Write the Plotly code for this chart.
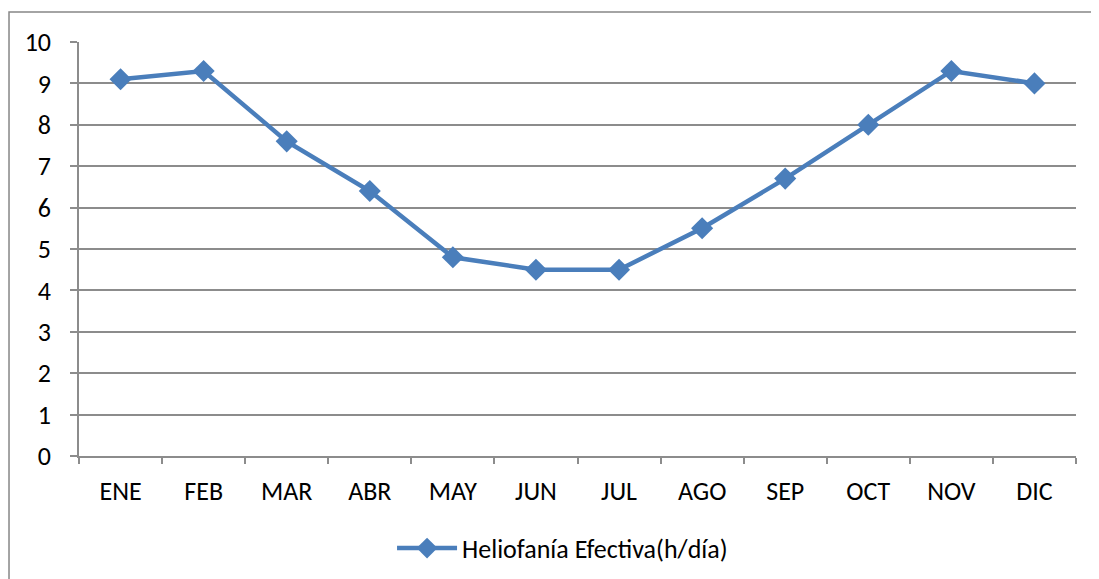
import plotly.graph_objects as go

months = ["ENE", "FEB", "MAR", "ABR", "MAY", "JUN", "JUL", "AGO", "SEP", "OCT", "NOV", "DIC"]
heliofania = [9.1, 9.3, 7.6, 6.4, 4.8, 4.5, 4.5, 5.5, 6.7, 8.0, 9.3, 9.0]
series_name = "Heliofanía Efectiva(h/día)"
y_ticks = list(range(0, 11))

color = "#4A7EBB"
grid = "#8C8C8C"
font_family = "Carlito, Calibri, Lato, 'Open Sans', sans-serif"

fig = go.Figure()
fig.add_trace(go.Scatter(
    x=months, y=heliofania, name=series_name, mode="lines+markers",
    line=dict(color=color, width=4.5),
    marker=dict(symbol="diamond", size=17, color=color),
))

fig.update_layout(
    width=1091, height=571,
    margin=dict(l=71, r=23, t=34, b=123, autoexpand=False),
    paper_bgcolor="white", plot_bgcolor="white",
    font=dict(family=font_family, size=26, color="#000000"),
    showlegend=True,
    legend=dict(orientation="h", x=0.485, xanchor="center", yref="container",
                y=0.054, yanchor="middle", font=dict(size=26), itemwidth=60),
    shapes=[dict(type="rect", xref="paper", yref="paper",
                 x0=-0.0702, x1=1.1, y0=-0.6, y1=1.0725,
                 line=dict(color="#878787", width=1.5), fillcolor="rgba(0,0,0,0)", layer="below")],
)

fig.update_xaxes(
    type="category", tickson="boundaries", ticks="outside", ticklen=6, tickcolor=grid,
    tickwidth=1.5, showline=True, linecolor=grid, linewidth=1.5, showgrid=False,
    ticklabelstandoff=11, range=[-0.5, 11.5], automargin=False,
)
fig.update_yaxes(
    range=[0, 10], tickvals=y_ticks, ticks="outside", ticklen=7, tickcolor=grid, tickwidth=1.5,
    showline=True, linecolor=grid, linewidth=1.5, showgrid=True, gridcolor=grid, gridwidth=1.5,
    zeroline=False, ticklabelstandoff=14, automargin=False,
)

fig.write_html("out.html")
